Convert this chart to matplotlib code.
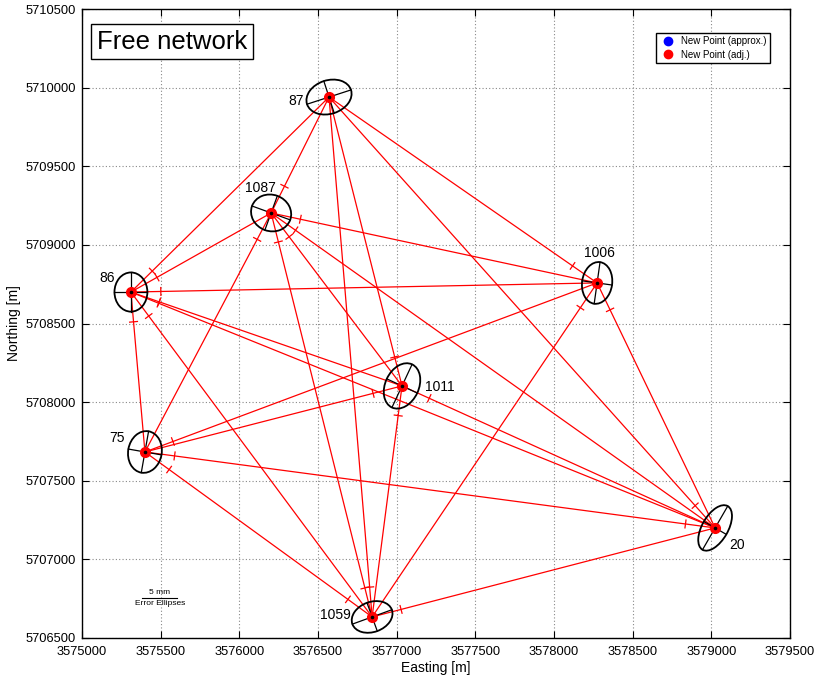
import numpy as np
import matplotlib
matplotlib.use("Agg")
import matplotlib.pyplot as plt
from matplotlib.patches import Ellipse
from matplotlib.lines import Line2D

plt.rcParams['font.family'] = ['Liberation Sans', 'DejaVu Sans']

# Station coordinates [m]
point_ids = ['87', '1087', '86', '1006', '1011', '75', '20', '1059']
easting = [3576570, 3576202, 3575311, 3578274, 3577034, 3575400, 3579024, 3576844]
northing = [5709940, 5709203, 5708700, 5708758, 5708103, 5707683, 5707200, 5706634]

# Error ellipses: semi-major / semi-minor axis [mm], orientation [deg]
ell_a = [3.3, 2.9, 2.8, 3.0, 3.4, 3.0, 3.6, 3.0]
ell_b = [2.4, 2.6, 2.35, 2.15, 2.4, 2.4, 1.85, 2.15]
ell_theta = [18, -20, 90, 82, 65, 80, 60, 20]

# Observed connections (station, target)
obs_from = ['86', '86', '86', '86', '86', '86', '86',
            '1087', '1087', '1087', '1087', '1087', '1087',
            '1006', '1006', '1006',
            '1011', '1011', '1011', '1011',
            '75', '75', '75',
            '20', '20',
            '1059', '1059', '1059', '1059']
obs_to = ['87', '1087', '1006', '1011', '20', '1059', '75',
          '87', '1006', '1011', '20', '1059', '75',
          '87', '20', '1059',
          '87', '20', '1059', '75',
          '1006', '20', '1059',
          '87', '75',
          '75', '20', '87', '1087']
# Connections drawn without an observation mark
extra_from = ['87', '87', '87', '86']
extra_to = ['1006', '20', '1011', '20']

x_ticks = np.arange(3575000, 3579501, 500)
y_ticks = np.arange(5706500, 5710501, 500)

ELLIPSE_SCALE = 44.5   # map metres per mm of ellipse
MARK_DIST = 190.0      # distance of observation mark from station [m]
MARK_HALF = 25.0       # half length of observation mark [m]

fig = plt.figure(figsize=(8.19, 6.79), dpi=100)
ax = fig.add_axes([82 / 819, 1 - 638 / 679, 708 / 819, 629 / 679])
ax.set_xlim(3575000, 3579500)
ax.set_ylim(5706500, 5710500)

pos = {p: (x, y) for p, x, y in zip(point_ids, easting, northing)}

# network lines
pairs = set()
for f, t in list(zip(obs_from, obs_to)) + list(zip(extra_from, extra_to)):
    key = tuple(sorted((f, t)))
    if key in pairs:
        continue
    pairs.add(key)
    (x1, y1), (x2, y2) = pos[f], pos[t]
    ax.plot([x1, x2], [y1, y2], color='red', lw=0.9, zorder=2)

# observation marks
for f, t in zip(obs_from, obs_to):
    (x1, y1), (x2, y2) = pos[f], pos[t]
    d = np.hypot(x2 - x1, y2 - y1)
    ux, uy = (x2 - x1) / d, (y2 - y1) / d
    cx, cy = x1 + ux * MARK_DIST, y1 + uy * MARK_DIST
    ax.plot([cx - uy * MARK_HALF, cx + uy * MARK_HALF],
            [cy + ux * MARK_HALF, cy - ux * MARK_HALF], color='red', lw=0.9, zorder=2)

# error ellipses with their axes
for x, y, a, b, th in zip(easting, northing, ell_a, ell_b, ell_theta):
    A, B = a * ELLIPSE_SCALE, b * ELLIPSE_SCALE
    ax.add_patch(Ellipse((x, y), 2 * A, 2 * B, angle=th, fill=False,
                         edgecolor='black', lw=1.3, zorder=3))
    t = np.deg2rad(th)
    ax.plot([x - A * np.cos(t), x + A * np.cos(t)],
            [y - A * np.sin(t), y + A * np.sin(t)], color='black', lw=0.9, zorder=3)
    ax.plot([x + B * np.sin(t), x - B * np.sin(t)],
            [y - B * np.cos(t), y + B * np.cos(t)], color='black', lw=0.9, zorder=3)

# points
ax.plot(easting, northing, 'o', color='blue', ms=5, zorder=4)
ax.plot(easting, northing, 'o', color='red', ms=7, zorder=5)
ax.plot(easting, northing, 'o', color='black', ms=1.6, zorder=6)

# point labels (offset in points)
label_off = {'87': (-23.8, -2.9), '1087': (-8, 18), '86': (-17, 10), '1006': (2, 21.6),
             '1011': (27, -0.7), '75': (-20, 10), '20': (16, -12), '1059': (-26.6, 1.4)}
for p, x, y in zip(point_ids, easting, northing):
    dx, dy = label_off[p]
    ax.annotate(p, (x, y), xytext=(dx, dy), textcoords='offset points',
                ha='center', va='center', fontsize=10, zorder=7)

# scale bar for error ellipses
sb_x = 3575495
sb_y = 5706754
ax.plot([sb_x - 2.5 * ELLIPSE_SCALE, sb_x + 2.5 * ELLIPSE_SCALE], [sb_y, sb_y],
        color='black', lw=0.8)
ax.text(sb_x, sb_y + 12, '5 mm', ha='center', va='bottom', fontsize=6)
ax.text(sb_x, sb_y - 10, 'Error Ellipses', ha='center', va='top', fontsize=6)

ax.set_xticks(x_ticks)
ax.set_yticks(y_ticks)
ax.set_xticklabels([str(v) for v in x_ticks])
ax.set_yticklabels([str(v) for v in y_ticks])
ax.tick_params(direction='in', top=True, right=True, labelsize=9.3, length=5, width=0.8)
ax.tick_params(axis='x', pad=6)
ax.tick_params(axis='y', pad=4.5)
ax.grid(True, color='#888888', ls=(0, (1, 2)), lw=0.8)
ax.set_axisbelow(True)
for s in ax.spines.values():
    s.set_linewidth(1.0)

ax.set_xlabel('Easting [m]', fontsize=10, labelpad=2)
ax.set_ylabel('Northing [m]', fontsize=10, labelpad=3)

ax.text(0.127, 0.948, 'Free network', transform=ax.transAxes, ha='center', va='center',
        fontsize=18.5, bbox=dict(boxstyle='square,pad=0.22', fc='white', ec='black', lw=1.0),
        zorder=8)

handles = [Line2D([], [], ls='none', marker='o', color='blue', ms=6),
           Line2D([], [], ls='none', marker='o', color='red', ms=6)]
leg = ax.legend(handles, ['New Point (approx.)', 'New Point (adj.)'],
                loc='upper right', bbox_to_anchor=(0.972, 0.962), borderaxespad=0,
                fontsize=7, fancybox=False, edgecolor='black', framealpha=1,
                handlelength=1.6, labelspacing=0.35, borderpad=0.35, handletextpad=0.6)
leg.get_frame().set_linewidth(1.0)
leg.set_zorder(8)

fig.savefig('out.png', dpi=100)
